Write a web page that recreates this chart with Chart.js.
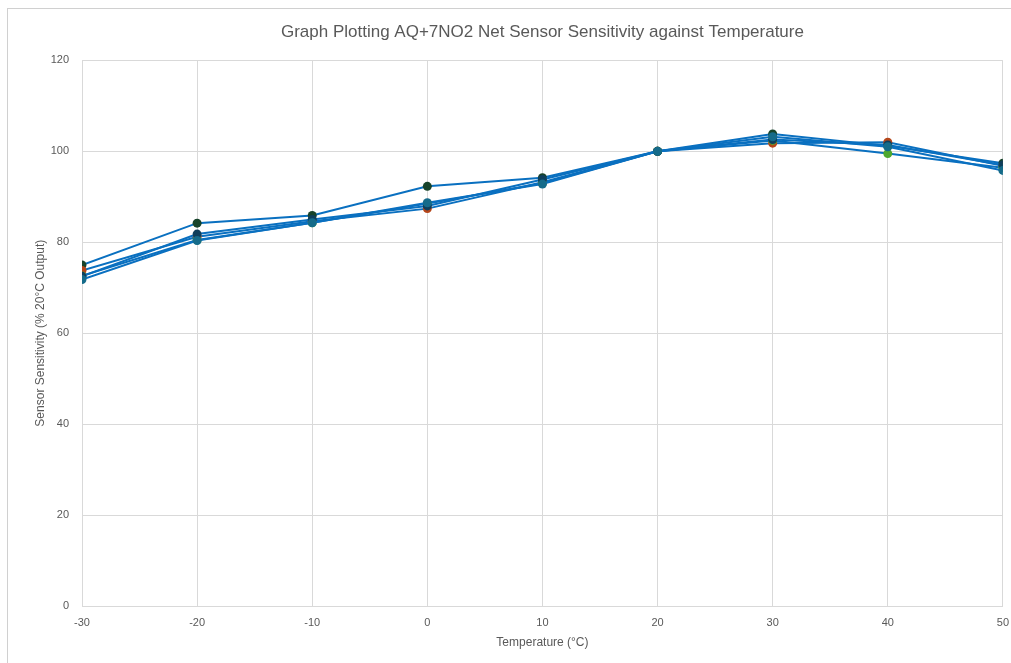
<!DOCTYPE html>
<html>
<head>
<meta charset="utf-8">
<script src="https://cdn.jsdelivr.net/npm/chart.js@4.4.1/dist/chart.umd.min.js"></script>
<style>
  html, body { margin: 0; padding: 0; background: #fff; overflow: hidden; }
  #frame { position: absolute; left: 7px; top: 8px; width: 1100px; height: 700px;
           border-left: 1px solid #d0d0d0; border-top: 1px solid #d0d0d0; }
  #wrap { position: absolute; left: 0; top: 0; width: 1019px; height: 663px; }
</style>
</head>
<body>
<div id="frame"></div>
<div id="wrap"><canvas id="chart" width="1019" height="663"></canvas></div>
<script>
// temperatures (°C)
const temps = [-30, -20, -10, 0, 10, 20, 30, 40, 50];

// sensitivity as % of 20°C output, one array per sensor
const sensorA = [75.0, 84.2, 85.9, 92.3, 94.2, 100, 103.8, 101.2, 97.4];
const sensorB = [73.8, 81.2, 84.6, 87.4, 93.2, 100, 101.8, 102.0, 96.8];
const sensorC = [72.6, 80.5, 84.3, 88.5, 93.0, 100, 102.4, 99.5, 96.4];
const sensorD = [72.5, 81.8, 85.0, 88.0, 93.8, 100, 102.6, 101.4, 97.0];
const sensorE = [71.8, 80.4, 84.3, 88.7, 92.8, 100, 103.2, 101.0, 95.8];

const seriesNames = ['Sensor 1', 'Sensor 2', 'Sensor 3', 'Sensor 4', 'Sensor 5'];
const markerColours = ['#17432a', '#b5461a', '#4ea72e', '#0f3f5c', '#156b8a'];

const textGrey = '#595959';
const gridGrey = '#d9d9d9';
const lineBlue = '#0a70c0';

const allSeries = [sensorA, sensorB, sensorC, sensorD, sensorE];
// chart.js paints the first dataset on top, so the last sensor goes first
const datasets = allSeries.map((vals, i) => ({
    label: seriesNames[i],
    data: vals.map((v, j) => ({ x: temps[j], y: v })),
    borderColor: lineBlue,
    borderWidth: 2,
    pointRadius: 4.5,
    pointHoverRadius: 4.5,
    pointBackgroundColor: markerColours[i],
    pointBorderColor: markerColours[i],
    pointBorderWidth: 0,
    tension: 0,
    fill: false
})).reverse();

const ctx = document.getElementById('chart').getContext('2d');
new Chart(ctx, {
    type: 'scatter',
    data: { datasets: datasets },
    options: {
        responsive: false,
        animation: false,
        showLine: true,
        layout: { padding: { left: 0, right: 0, top: 0, bottom: 0 } },
        plugins: {
            legend: { display: false },
            tooltip: { enabled: false },
            title: {
                display: true,
                fullSize: false,
                text: 'Graph Plotting AQ+7NO2 Net Sensor Sensitivity against Temperature',
                color: textGrey,
                font: { family: 'Liberation Sans, sans-serif', size: 17, weight: 'normal' },
                padding: { top: 22, bottom: 18 }
            }
        },
        scales: {
            x: {
                type: 'linear',
                min: -30,
                max: 50,
                ticks: { stepSize: 10, color: textGrey, padding: 10,
                         font: { family: 'Liberation Sans, sans-serif', size: 11 } },
                grid: { color: gridGrey, drawTicks: false },
                border: { color: gridGrey },
                title: { display: true, text: 'Temperature (°C)', color: textGrey,
                         font: { family: 'Liberation Sans, sans-serif', size: 12 },
                         padding: { top: 4, bottom: 13 } },
                afterFit: (s) => { s.height = 57; }
            },
            y: {
                min: 0,
                max: 120,
                ticks: { stepSize: 20, color: textGrey, padding: 13,
                         font: { family: 'Liberation Sans, sans-serif', size: 11 } },
                grid: { color: gridGrey, drawTicks: false },
                border: { color: gridGrey },
                title: { display: true, text: 'Sensor Sensitivity (% 20°C Output)', color: textGrey,
                         font: { family: 'Liberation Sans, sans-serif', size: 12 },
                         padding: { top: 33, bottom: 0 } },
                afterFit: (s) => { s.width = 82; }
            }
        }
    }
});
</script>
</body>
</html>
